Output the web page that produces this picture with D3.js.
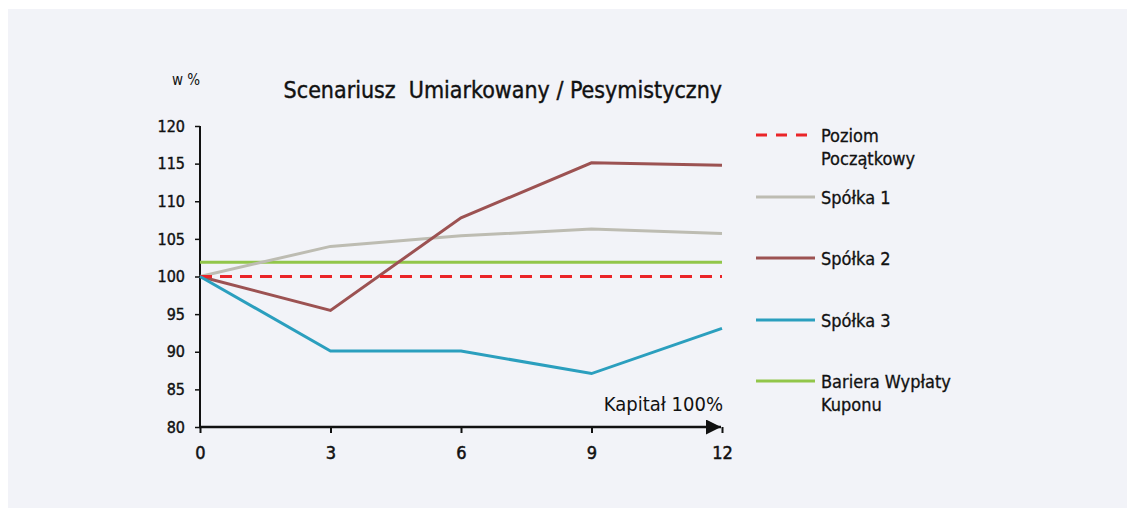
<!DOCTYPE html>
<html lang="pl">
<head>
  <meta charset="UTF-8" />
  <title>Scenariusz Umiarkowany / Pesymistyczny</title>
  <script src="https://cdn.jsdelivr.net/npm/d3@7"></script>
  <style>
    html, body { margin: 0; padding: 0; background: #fff; overflow: hidden; }
    svg { display: block; }
    text { font-family: "DejaVu Sans Condensed", "DejaVu Sans", sans-serif; fill: #111; }
  </style>
</head>
<body>
  <script>
    // months on the x axis
    const months = [0, 3, 6, 9, 12];
    const yTicks = [80, 85, 90, 95, 100, 105, 110, 115, 120];

    // series values (w %)
    const spolka1 = [100, 104, 105.4, 106.3, 105.7];
    const spolka2 = [100, 95.5, 107.8, 115.1, 114.8];
    const spolka3 = [100, 90.1, 90.1, 87.1, 93.1];
    const poziomPoczatkowy = [100, 100];
    const barieraKuponu = [101.9, 101.9];

    const W = 1127, H = 508;
    const svg = d3.select("body").append("svg")
      .attr("width", W).attr("height", H);

    // light panel behind everything
    svg.append("rect")
      .attr("x", 8).attr("y", 9)
      .attr("width", W - 8).attr("height", H - 9)
      .attr("fill", "#f2f3f8");

    const x = d3.scaleLinear().domain([0, 12]).range([200, 722]);
    const y = d3.scaleLinear().domain([80, 120]).range([427, 126]);

    // axes
    const yAxis = svg.append("g")
      .attr("transform", `translate(${x(0)},0)`)
      .call(d3.axisLeft(y).tickValues(yTicks).tickSize(5).tickPadding(10));
    yAxis.select(".domain").attr("stroke", "#111").attr("stroke-width", 2)
      .attr("d", `M0,${y(120)}V${y(80)}`);
    yAxis.selectAll(".tick line").attr("stroke", "#111").attr("stroke-width", 1.5);
    yAxis.selectAll(".tick text")
      .style("font-size", "16px").attr("fill", "#111")
      .attr("stroke", "#111").attr("stroke-width", 0.4);

    const xAxis = svg.append("g")
      .attr("transform", `translate(0,${y(80)})`)
      .call(d3.axisBottom(x).tickValues(months).tickSize(6).tickPadding(13));
    xAxis.select(".domain").remove();
    xAxis.selectAll(".tick line").attr("stroke", "#111").attr("stroke-width", 2);
    xAxis.selectAll(".tick text")
      .style("font-size", "18px").attr("fill", "#111")
      .attr("stroke", "#111").attr("stroke-width", 0.5);

    // x axis line with arrow head
    svg.append("defs").append("marker")
      .attr("id", "arrow")
      .attr("viewBox", "0 0 10 10")
      .attr("refX", 10).attr("refY", 5)
      .attr("markerWidth", 6).attr("markerHeight", 6)
      .attr("markerUnits", "strokeWidth")
      .attr("orient", "auto")
      .append("path").attr("d", "M0,0 L10,5 L0,10 Z").attr("fill", "#111");
    svg.append("line")
      .attr("x1", x(0) - 1).attr("x2", x(12) - 1)
      .attr("y1", y(80)).attr("y2", y(80))
      .attr("stroke", "#111").attr("stroke-width", 2.5)
      .attr("marker-end", "url(#arrow)");

    const line = d3.line()
      .x((d, i) => x(months[i]))
      .y(d => y(d));

    // flat lines span the whole axis
    const flat = d3.line()
      .x((d, i) => x(i === 0 ? months[0] : months[months.length - 1]))
      .y(d => y(d));

    const series = [
      { name: ["Bariera Wypłaty", "Kuponu"], color: "#92c64a", data: barieraKuponu, gen: flat, legendY: 381 },
      { name: ["Spółka 1"], color: "#bdbcb2", data: spolka1, gen: line, legendY: 197 },
      { name: ["Spółka 2"], color: "#9c5252", data: spolka2, gen: line, legendY: 258 },
      { name: ["Poziom", "Początkowy"], color: "#ea2428", data: poziomPoczatkowy, gen: flat, dash: "12,8", legendY: 135 },
      { name: ["Spółka 3"], color: "#2b9fbe", data: spolka3, gen: line, legendY: 320 }
    ];

    svg.append("g").selectAll("path")
      .data(series)
      .join("path")
      .attr("d", d => d.gen(d.data))
      .attr("fill", "none")
      .attr("stroke", d => d.color)
      .attr("stroke-width", 3)
      .attr("stroke-dasharray", d => d.dash || null);

    // legend
    const lg = svg.append("g").selectAll("g")
      .data(series)
      .join("g")
      .attr("transform", d => `translate(756,${d.legendY})`);
    lg.append("line")
      .attr("x1", 0).attr("x2", 59)
      .attr("stroke", d => d.color)
      .attr("stroke-width", 3)
      .attr("stroke-dasharray", d => d.dash ? "11,9" : null);
    lg.append("text")
      .attr("x", 65).attr("y", 7)
      .style("font-size", "18px")
      .attr("stroke", "#111").attr("stroke-width", 0.3)
      .selectAll("tspan")
      .data(d => d.name)
      .join("tspan")
      .attr("x", 65)
      .attr("dy", (d, i) => i === 0 ? 0 : 23)
      .text(d => d);

    // titles
    svg.append("text")
      .attr("x", 722).attr("y", 98)
      .attr("text-anchor", "end")
      .style("font-size", "23px")
      .style("white-space", "pre")
      .attr("stroke", "#111").attr("stroke-width", 0.4)
      .text("Scenariusz  Umiarkowany / Pesymistyczny");
    svg.append("text")
      .attr("x", 186).attr("y", 85)
      .attr("text-anchor", "middle")
      .style("font-size", "15px")
      .text("w %");
    svg.append("text")
      .attr("x", 723).attr("y", 411)
      .attr("text-anchor", "end")
      .style("font-size", "20px").style("font-weight", "300")
      .text("Kapitał 100%");
  </script>
</body>
</html>
